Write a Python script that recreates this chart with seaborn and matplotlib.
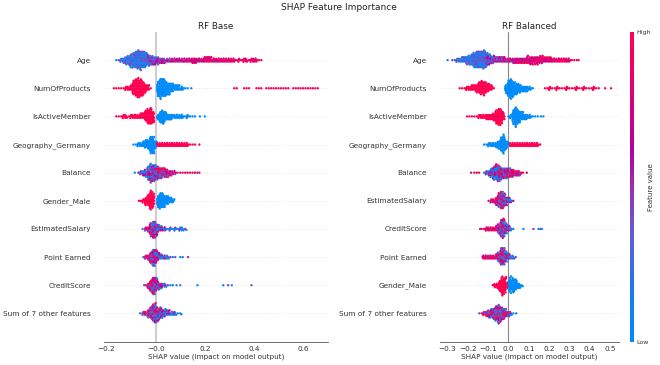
import numpy as np
import pandas as pd
import matplotlib
matplotlib.use("Agg")
import matplotlib.pyplot as plt
import seaborn as sns
from matplotlib.colors import LinearSegmentedColormap
from matplotlib.cm import ScalarMappable
from matplotlib.markers import MarkerStyle
from matplotlib.transforms import Affine2D

# feature order per model
BASE_FEATURES = ["Age", "NumOfProducts", "IsActiveMember", "Geography_Germany", "Balance",
                 "Gender_Male", "EstimatedSalary", "Point Earned", "CreditScore", "Sum of 7 other features"]
BALANCED_FEATURES = ["Age", "NumOfProducts", "IsActiveMember", "Geography_Germany", "Balance",
                     "EstimatedSalary", "CreditScore", "Point Earned", "Gender_Male", "Sum of 7 other features"]

BASE_TICKS = [-0.2, 0.0, 0.2, 0.4, 0.6]
BASE_TICK_LABELS = ["\u22120.2", "\u22120.0", "0.2", "0.4", "0.6"]
BALANCED_TICKS = [-0.3, -0.2, -0.1, 0.0, 0.1, 0.2, 0.3, 0.4, 0.5]
BALANCED_TICK_LABELS = ["\u22120.3", "\u22120.2", "\u22120.1", "0.0", "0.1", "0.2", "0.3", "0.4", "0.5"]

# RF Base: shap value bins (X), height of the swarm in the bin (N),
# feature value by stretch of x (E = stretch edges, L = level in each stretch)
AGE_B_X = [-.16, -.15, -.14, -.13, -.12, -.11, -.10, -.09, -.08, -.07, -.06, -.05, -.04, -.03, -.02, -.01, 0, .01, .02, .03,
           .04, .05, .06, .07, .08, .09, .10, .11, .12, .13, .14, .15, .16, .17, .18, .19, .20, .21, .22, .23,
           .24, .25, .26, .27, .28, .29, .30, .31, .32, .33, .34, .35, .36, .37, .38, .39, .40, .41, .42, .43]
AGE_B_N = [1, 1, 2, 3, 4, 5, 7, 8, 9, 10, 10, 9, 8, 6, 5, 5, 4, 4, 3, 3,
           2, 2, 2, 2, 2, 2, 2, 2, 2, 2, 2, 3, 3, 2, 2, 2, 3, 3, 3, 2,
           2, 2, 2, 2, 2, 2, 2, 2, 2, 1, 2, 1, 2, 2, 1, 2, 2, 2, 1, 1]
AGE_B_E = [-.04, -.01, .02, .06, .12, .2, .3]
AGE_B_L = [.2, .35, .5, .58, .7, .78, .85, .95]

NOP_B_X = [-.17, -.16, -.15, -.14, -.13, -.12, -.11, -.10, -.09, -.08, -.07, -.06, -.05, -.04, -.03, -.02,
           .01, .02, .03, .04, .05, .06, .07, .08, .09, .10, .11, .12, .13, .145,
           .32, .33, .36, .37, .38, .41, .42, .43, .45, .46, .47, .48, .49, .50, .51, .52, .53, .54,
           .56, .57, .58, .59, .60, .61, .62, .63, .64, .65, .66]
NOP_B_N = [1, 1, 1, 1, 1, 2, 2, 3, 7, 9, 10, 9, 7, 4, 3, 1,
           7, 10, 9, 8, 6, 5, 4, 3, 3, 2, 2, 1, 1, 1,
           1, 1, 1, 1, 1, 1, 1, 1, 1, 1, 1, 1, 1, 1, 1, 1, 1, 1,
           1, 1, 1, 1, 1, 1, 1, 1, 1, 1, 1]
NOP_B_E = [0, .25]
NOP_B_L = [1, 0, 1]

ACT_B_X = [-.16, -.15, -.14, -.13, -.12, -.11, -.10, -.09, -.08, -.07, -.06, -.05, -.04, -.03, -.02, -.01,
           .01, .02, .03, .04, .05, .06, .07, .08, .09, .10, .11, .12, .13, .14, .15, .16, .18, .2]
ACT_B_N = [1, 1, 1, 2, 2, 1, 2, 2, 2, 2, 3, 3, 6, 8, 9, 6,
           3, 6, 7, 5, 3, 3, 2, 2, 2, 2, 2, 1, 2, 1, 1, 1, 1, 1]
ACT_B_E = [0]
ACT_B_L = [1, 0]

GEO_B_X = [-.09, -.08, -.07, -.06, -.05, -.04, -.03, -.02, -.01, 0,
           .01, .02, .03, .04, .05, .06, .07, .08, .09, .10, .11, .12, .13, .14, .15, .16, .178]
GEO_B_N = [1, 1, 2, 2, 3, 4, 5, 9, 9, 4,
           2, 2, 2, 2, 2, 2, 2, 2, 2, 2, 2, 2, 2, 1, 1, 1, 1]
GEO_B_E = [.008]
GEO_B_L = [0, 1]

BAL_B_X = [-.085, -.07, -.06, -.05, -.04, -.03, -.02, -.01, 0, .01, .02, .03, .04, .05, .06, .07, .08,
           .09, .10, .11, .12, .13, .14, .15, .16, .17, .178]
BAL_B_N = [1, 1, 2, 3, 4, 7, 10, 9, 8, 7, 6, 5, 5, 4, 3, 2, 2,
           1, 1, 1, 1, 1, 1, 1, 1, 1, 1]
BAL_B_E = [-.03, 0, .04, .09]
BAL_B_L = [.3, .42, .62, .8, 1]

GEN_B_X = [-.068, -.06, -.05, -.04, -.03, -.02, -.01, .01, .02, .03, .04, .05, .06, .07, .076]
GEN_B_N = [1, 1, 2, 4, 6, 10, 8, 6, 8, 7, 5, 4, 3, 2, 1]
GEN_B_E = [0]
GEN_B_L = [1, 0]

SAL_B_X = [-.053, -.04, -.03, -.02, -.01, 0, .01, .02, .03, .04, .05, .06, .07, .08, .09, .10, .11, .12, .125]
SAL_B_N = [1, 2, 3, 7, 9, 8, 5, 3, 2, 2, 1, 2, 1, 2, 1, 2, 2, 1, 1]
SAL_B_E = [-.02, .01, .04]
SAL_B_L = [.7, .5, .32, .08]

PTS_B_X = [-.05, -.04, -.03, -.02, -.01, 0, .01, .02, .03, .04, .05, .06, .07, .08, .1, .11, .132]
PTS_B_N = [1, 2, 3, 6, 9, 8, 5, 3, 2, 2, 2, 1, 1, 1, 1, 1, 1]
PTS_B_E = [-.02, .01, .04]
PTS_B_L = [.75, .5, .32, .1]

CRD_B_X = [-.047, -.04, -.03, -.02, -.01, 0, .01, .02, .03, .04, .05, .06, .07, .085, .1, .17, .275, .295, .31, .39]
CRD_B_N = [1, 1, 3, 6, 9, 8, 5, 3, 2, 2, 1, 1, 1, 1, 1, 1, 1, 1, 1, 1]
CRD_B_E = [-.01, .02, .04]
CRD_B_L = [.7, .5, .3, 0]

SUM_B_X = [-.063, -.05, -.04, -.03, -.02, -.01, 0, .01, .02, .03, .04, .05, .06, .07, .08, .09, .10, .105]
SUM_B_N = [1, 2, 2, 4, 6, 9, 10, 7, 6, 4, 4, 3, 2, 2, 2, 1, 1, 1]
SUM_B_E = [-.02, .02, .06]
SUM_B_L = [.62, .5, .35, .1]

# RF Balanced
AGE_R_X = [-.30, -.276, -.264, -.252, -.24, -.228, -.216, -.204, -.192, -.18, -.168, -.156, -.144, -.132, -.12, -.108,
           -.096, -.084, -.072, -.06, -.048, -.036, -.024, -.012, 0, .012, .024, .036, .048, .06, .072, .084, .096,
           .108, .12, .132, .144, .156, .168, .18, .192, .204, .216, .228, .24, .252, .264, .276, .288, .30, .312, .324, .336, .345]
AGE_R_N = [1, 1, 1, 2, 2, 3, 3, 4, 5, 6, 8, 9, 9, 9, 10, 8,
           6, 4, 4, 3, 3, 3, 3, 2, 2, 2, 3, 3, 3, 3, 3, 3, 4,
           4, 4, 4, 4, 4, 4, 3, 3, 3, 2, 2, 2, 2, 2, 2, 2, 2, 1, 1, 1, 1]
AGE_R_E = [-.11, -.07, -.03, .03, .1, .2]
AGE_R_L = [.2, .38, .55, .66, .78, .85, .95]

NOP_R_X = [-.24, -.228, -.216, -.204, -.192, -.18, -.168, -.156, -.144, -.132, -.12, -.108, -.096, -.084, -.072,
           -.012, 0, .012, .024, .036, .048, .06, .072, .084, .096, .108, .12,
           .18, .192, .204, .216, .228, .24, .252, .264, .276, .288, .30, .312, .324, .336, .348, .36, .372, .384, .396, .408, .42, .432, .444, .476, .505]
NOP_R_N = [1, 1, 1, 2, 2, 3, 3, 4, 6, 7, 7, 5, 4, 3, 1,
           4, 8, 10, 8, 6, 5, 4, 3, 3, 2, 2, 1,
           1, 1, 2, 1, 1, 2, 1, 1, 1, 2, 1, 1, 1, 2, 1, 1, 2, 1, 1, 1, 2, 1, 1, 1, 1]
NOP_R_E = [-.03, .15]
NOP_R_L = [1, 0, 1]

ACT_R_X = [-.204, -.192, -.18, -.168, -.156, -.144, -.132, -.12, -.108, -.096, -.084, -.072, -.06, -.048, -.036, -.024,
           0, .012, .024, .036, .048, .06, .072, .084, .096, .108, .12, .132, .144, .16, .172]
ACT_R_N = [1, 1, 1, 1, 1, 2, 2, 2, 3, 3, 3, 4, 7, 9, 8, 4,
           1, 2, 7, 10, 7, 5, 4, 3, 2, 2, 1, 1, 1, 1, 1]
ACT_R_E = [-.006]
ACT_R_L = [1, 0]

GEO_R_X = [-.12, -.108, -.096, -.084, -.072, -.06, -.048, -.036, -.024, -.012, 0,
           .012, .024, .036, .048, .06, .072, .084, .096, .108, .12, .132, .144, .156]
GEO_R_N = [1, 1, 2, 2, 2, 3, 4, 7, 10, 5, 2,
           2, 2, 2, 2, 2, 2, 2, 2, 2, 2, 2, 2, 1]
GEO_R_E = [.004]
GEO_R_L = [0, 1]

BAL_R_X = [-.184, -.168, -.156, -.144, -.12, -.108, -.096, -.084, -.072, -.06, -.048, -.036, -.024, -.012, 0, .012, .024,
           .036, .048, .06, .072, .09]
BAL_R_N = [1, 1, 1, 1, 1, 2, 3, 5, 7, 9, 9, 7, 6, 6, 5, 5, 4, 3, 3, 2, 1, 1]
BAL_R_E = [-.13, -.05, -.01, .02]
BAL_R_L = [1, .35, .55, .75, .85]

SAL_R_X = [-.098, -.084, -.072, -.06, -.048, -.036, -.024, -.012, 0, .012, .024]
SAL_R_N = [1, 2, 2, 4, 7, 9, 8, 5, 3, 2, 1]
SAL_R_E = [-.06, -.024, 0]
SAL_R_L = [.9, .58, .42, .25]

CRD_R_X = [-.14, -.132, -.12, -.108, -.096, -.084, -.072, -.06, -.048, -.036, -.024, -.012, 0, .012, .024, .074, .123, .148, .156, .164]
CRD_R_N = [1, 1, 1, 2, 2, 2, 2, 3, 5, 9, 10, 6, 3, 2, 1, 1, 1, 1, 1, 1]
CRD_R_E = [-.06, -.024, 0]
CRD_R_L = [.95, .58, .42, .05]

PTS_R_X = [-.128, -.12, -.108, -.096, -.084, -.072, -.06, -.048, -.036, -.024, -.012, 0, .012, .024, .036]
PTS_R_N = [1, 2, 2, 2, 2, 2, 3, 5, 9, 9, 6, 3, 2, 2, 1]
PTS_R_E = [-.06, -.024, 0]
PTS_R_L = [.95, .58, .42, .1]

GEN_R_X = [-.077, -.066, -.054, -.042, -.03, -.018, -.008, .004, .012, .024, .036, .048, .06, .07]
GEN_R_N = [1, 2, 3, 6, 10, 8, 3, 4, 7, 8, 6, 3, 2, 1]
GEN_R_E = [-.003]
GEN_R_L = [1, 0]

SUM_R_X = [-.144, -.132, -.12, -.108, -.096, -.084, -.072, -.06, -.048, -.036, -.024, -.012, 0, .012, .024, .038]
SUM_R_N = [1, 1, 2, 3, 4, 5, 6, 8, 10, 8, 6, 4, 3, 2, 1, 1]
SUM_R_E = [-.1, -.03, .01]
SUM_R_L = [.78, .55, .62, .1]

# how far a dot's colour may stray from the level of its stretch
BASE_SPREAD = [.25, 0, 0, 0, .45, 0, .42, .42, .42, .45]
BALANCED_SPREAD = [.25, 0, 0, 0, .45, .42, .42, .42, 0, .45]
DOT_MIX = [-1, 1, -.4, .7, -.8, .2, 1, -.6, .4, -1, .8, -.2]

# a bin holds two dots per unit of N, side by side within the bin
BASE_BIN = 0.01
BALANCED_BIN = 0.012
SUB_BIN = [-1 / 3, 0, 1 / 3]

BASE_ROWS = [(AGE_B_X, AGE_B_N, AGE_B_E, AGE_B_L), (NOP_B_X, NOP_B_N, NOP_B_E, NOP_B_L),
             (ACT_B_X, ACT_B_N, ACT_B_E, ACT_B_L), (GEO_B_X, GEO_B_N, GEO_B_E, GEO_B_L),
             (BAL_B_X, BAL_B_N, BAL_B_E, BAL_B_L), (GEN_B_X, GEN_B_N, GEN_B_E, GEN_B_L),
             (SAL_B_X, SAL_B_N, SAL_B_E, SAL_B_L), (PTS_B_X, PTS_B_N, PTS_B_E, PTS_B_L),
             (CRD_B_X, CRD_B_N, CRD_B_E, CRD_B_L), (SUM_B_X, SUM_B_N, SUM_B_E, SUM_B_L)]
BALANCED_ROWS = [(AGE_R_X, AGE_R_N, AGE_R_E, AGE_R_L), (NOP_R_X, NOP_R_N, NOP_R_E, NOP_R_L),
                 (ACT_R_X, ACT_R_N, ACT_R_E, ACT_R_L), (GEO_R_X, GEO_R_N, GEO_R_E, GEO_R_L),
                 (BAL_R_X, BAL_R_N, BAL_R_E, BAL_R_L), (SAL_R_X, SAL_R_N, SAL_R_E, SAL_R_L),
                 (CRD_R_X, CRD_R_N, CRD_R_E, CRD_R_L), (PTS_R_X, PTS_R_N, PTS_R_E, PTS_R_L),
                 (GEN_R_X, GEN_R_N, GEN_R_E, GEN_R_L), (SUM_R_X, SUM_R_N, SUM_R_E, SUM_R_L)]

W, H = 660, 365
TEXT = "#333333"

red_blue = LinearSegmentedColormap.from_list(
    "red_blue", [(0, "#008bfb"), (.18, "#1f78e8"), (.34, "#6060d8"), (.5, "#9a30b0"),
                 (.62, "#b000a0"), (.8, "#dc0078"), (1, "#ff0051")])


def build_frame(features, rows, spreads, bin_width):
    """
    Expands the binned rows into one line per dot
    """
    data = []
    for name, (xs, ns, edges, levels), spread in zip(features, rows, spreads):
        k = 0
        for x, n in zip(xs, ns, strict=True):
            base = levels[np.searchsorted(edges, x)]
            dots = 1 if n == 1 else 2 * n
            for j in range(dots):
                offset = 0 if dots == 1 else SUB_BIN[j % 3] * bin_width
                level = min(1, max(0, base + spread * DOT_MIX[k % len(DOT_MIX)]))
                data.append([name, x + offset, level])
                k += 1
    return pd.DataFrame(data, columns=["feature", "shap", "level"])


def add_axes_px(fig, left, right, top, bottom):
    return fig.add_axes([left / W, 1 - bottom / H, (right - left) / W, (bottom - top) / H])


def draw_panel(ax, features, rows, spreads, bin_width, xlim, ticks, tick_labels, title, zero_color, zero_width):
    df = build_frame(features, rows, spreads, bin_width)

    for i in range(len(features)):
        ax.axhline(i, color="#cccccc", lw=0.5, dashes=(1, 3), zorder=0)
    ax.axvline(0, color=zero_color, lw=zero_width, zorder=1)

    # dots drawn a bit larger than the swarm spacing so that the blobs close up
    dot = MarkerStyle("o", transform=Affine2D().scale(1.55))
    sns.swarmplot(data=df, x="shap", y="feature", order=features, hue="level", palette=red_blue,
                  hue_norm=(0, 1), size=1.1, linewidth=0, marker=dot, legend=False, orient="h",
                  warn_thresh=1, ax=ax, zorder=2)

    ax.set_xlim(*xlim)
    ax.set_ylim(10, -1)
    ax.set_xticks(ticks)
    ax.set_xticklabels(tick_labels)
    ax.set_xlabel("SHAP value (impact on model output)", fontsize=5.2, color=TEXT, labelpad=0.5)
    ax.set_ylabel("")
    ax.set_title(title, fontsize=6.3, color="#222222", pad=2.5)
    ax.tick_params(axis="y", length=0, labelsize=5.35, labelcolor=TEXT, pad=9.5)
    ax.tick_params(axis="x", length=2, width=0.5, labelsize=5.2, labelcolor=TEXT, color=TEXT, pad=1.5)
    sns.despine(ax=ax, left=True)
    ax.spines["bottom"].set_linewidth(0.5)
    ax.spines["bottom"].set_color(TEXT)


sns.set_style("white")
plt.rcParams["font.family"] = ["DejaVu Sans"]

fig = plt.figure(figsize=(W / 100, H / 100), dpi=100)
fig.suptitle("SHAP Feature Importance", fontsize=6.45, x=338.5 / W, y=1 - 7.5 / H, va="center", color="#222222")

ax1 = add_axes_px(fig, 104, 327.7, 32, 341.5)
draw_panel(ax1, BASE_FEATURES, BASE_ROWS, BASE_SPREAD, BASE_BIN, (-0.21, 0.70),
           BASE_TICKS, BASE_TICK_LABELS, "RF Base", "#cccccc", 1.4)

ax2 = add_axes_px(fig, 440, 619, 32, 341.5)
draw_panel(ax2, BALANCED_FEATURES, BALANCED_ROWS, BALANCED_SPREAD, BALANCED_BIN, (-0.337, 0.544),
           BALANCED_TICKS, BALANCED_TICK_LABELS, "RF Balanced", "#888888", 0.8)

cax = add_axes_px(fig, 630, 634.3, 32, 341.5)
cbar = fig.colorbar(ScalarMappable(cmap=red_blue), cax=cax, ticks=[0, 1])
cbar.ax.set_yticklabels(["Low", "High"], fontsize=4.5, color=TEXT)
cbar.ax.tick_params(length=0, pad=1.5)
cbar.outline.set_visible(False)
cbar.set_label("Feature value", fontsize=5, color=TEXT, labelpad=-2)

fig.savefig("out.png", dpi=100)
